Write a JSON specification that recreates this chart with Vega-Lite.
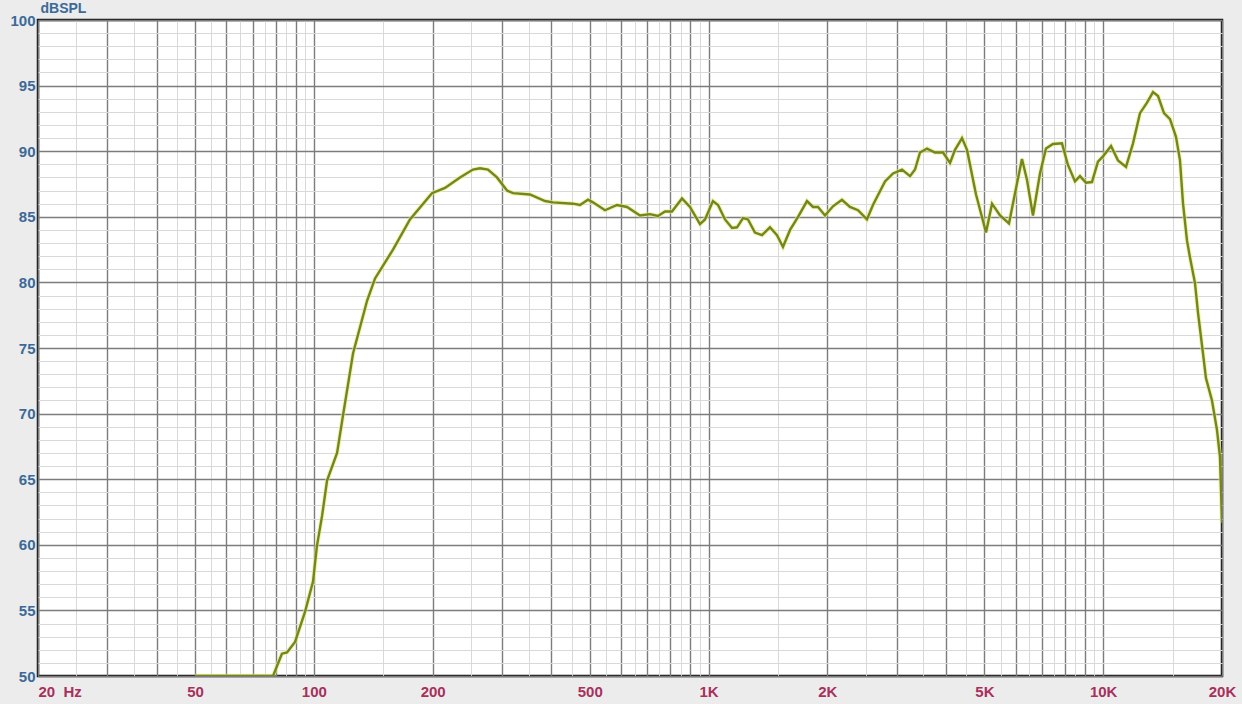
{
  "$schema": "https://vega.github.io/schema/vega-lite/v6.json",
  "autosize": "none",
  "width": 1184,
  "height": 656,
  "padding": {"left": 38, "top": 20, "right": 20, "bottom": 28},
  "background": "#ececec",
  "data": {
    "values": [
      {"freq": 50, "spl": 50},
      {"freq": 78.8, "spl": 50},
      {"freq": 83.0, "spl": 51.7},
      {"freq": 85.5, "spl": 51.8},
      {"freq": 89.6, "spl": 52.6},
      {"freq": 95.0, "spl": 54.9},
      {"freq": 99.5, "spl": 57.2},
      {"freq": 101.8, "spl": 59.9},
      {"freq": 104.9, "spl": 62.2},
      {"freq": 108.0, "spl": 64.9},
      {"freq": 114.5, "spl": 67.0},
      {"freq": 118.6, "spl": 69.9},
      {"freq": 125.7, "spl": 74.6},
      {"freq": 136.4, "spl": 78.6},
      {"freq": 142.9, "spl": 80.3},
      {"freq": 158.7, "spl": 82.5},
      {"freq": 175.2, "spl": 84.8},
      {"freq": 199.2, "spl": 86.8},
      {"freq": 214.9, "spl": 87.2},
      {"freq": 234.6, "spl": 88.0},
      {"freq": 253, "spl": 88.6},
      {"freq": 263.6, "spl": 88.7},
      {"freq": 276.2, "spl": 88.6},
      {"freq": 291, "spl": 88.0},
      {"freq": 308.6, "spl": 87.0},
      {"freq": 319.6, "spl": 86.8},
      {"freq": 352.8, "spl": 86.7},
      {"freq": 385.2, "spl": 86.2},
      {"freq": 403.6, "spl": 86.1},
      {"freq": 453.6, "spl": 86.0},
      {"freq": 472.6, "spl": 85.9},
      {"freq": 495, "spl": 86.3},
      {"freq": 509.6, "spl": 86.1},
      {"freq": 546.6, "spl": 85.5},
      {"freq": 586.2, "spl": 85.9},
      {"freq": 621.6, "spl": 85.75},
      {"freq": 670.4, "spl": 85.1},
      {"freq": 710.6, "spl": 85.2},
      {"freq": 744.6, "spl": 85.06},
      {"freq": 775.8, "spl": 85.4},
      {"freq": 808, "spl": 85.4},
      {"freq": 856.6, "spl": 86.4},
      {"freq": 897.4, "spl": 85.75},
      {"freq": 951.4, "spl": 84.45},
      {"freq": 979.6, "spl": 84.8},
      {"freq": 1026, "spl": 86.2},
      {"freq": 1057, "spl": 85.9},
      {"freq": 1101, "spl": 84.8},
      {"freq": 1147, "spl": 84.15},
      {"freq": 1181, "spl": 84.2},
      {"freq": 1223, "spl": 84.9},
      {"freq": 1259, "spl": 84.8},
      {"freq": 1311, "spl": 83.8},
      {"freq": 1366, "spl": 83.6},
      {"freq": 1431, "spl": 84.2},
      {"freq": 1491, "spl": 83.6},
      {"freq": 1544, "spl": 82.7},
      {"freq": 1609, "spl": 84.0},
      {"freq": 1686, "spl": 85.0},
      {"freq": 1776, "spl": 86.2},
      {"freq": 1840, "spl": 85.75},
      {"freq": 1894, "spl": 85.75},
      {"freq": 1973, "spl": 85.1},
      {"freq": 2067, "spl": 85.8},
      {"freq": 2178, "spl": 86.3},
      {"freq": 2282, "spl": 85.75},
      {"freq": 2392, "spl": 85.5},
      {"freq": 2520, "spl": 84.8},
      {"freq": 2610, "spl": 85.9},
      {"freq": 2800, "spl": 87.7},
      {"freq": 2934, "spl": 88.3},
      {"freq": 3092, "spl": 88.6},
      {"freq": 3240, "spl": 88.1},
      {"freq": 3336, "spl": 88.6},
      {"freq": 3434, "spl": 89.9},
      {"freq": 3578, "spl": 90.2},
      {"freq": 3748, "spl": 89.9},
      {"freq": 3928, "spl": 89.9},
      {"freq": 4092, "spl": 89.1},
      {"freq": 4212, "spl": 90.1},
      {"freq": 4388, "spl": 91.0},
      {"freq": 4518, "spl": 90.1},
      {"freq": 4762, "spl": 86.7},
      {"freq": 5048, "spl": 83.8},
      {"freq": 5228, "spl": 86.0},
      {"freq": 5478, "spl": 85.1},
      {"freq": 5772, "spl": 84.5},
      {"freq": 5978, "spl": 86.8},
      {"freq": 6226, "spl": 89.4},
      {"freq": 6412, "spl": 87.8},
      {"freq": 6638, "spl": 85.1},
      {"freq": 6916, "spl": 88.3},
      {"freq": 7162, "spl": 90.2},
      {"freq": 7460, "spl": 90.55},
      {"freq": 7862, "spl": 90.6},
      {"freq": 8142, "spl": 88.95},
      {"freq": 8482, "spl": 87.7},
      {"freq": 8734, "spl": 88.1},
      {"freq": 9044, "spl": 87.6},
      {"freq": 9366, "spl": 87.65},
      {"freq": 9700, "spl": 89.2},
      {"freq": 9988, "spl": 89.6},
      {"freq": 10466, "spl": 90.4},
      {"freq": 10902, "spl": 89.3},
      {"freq": 11424, "spl": 88.8},
      {"freq": 11900, "spl": 90.6},
      {"freq": 12394, "spl": 92.9},
      {"freq": 12914, "spl": 93.7},
      {"freq": 13374, "spl": 94.5},
      {"freq": 13770, "spl": 94.2},
      {"freq": 14258, "spl": 92.9},
      {"freq": 14766, "spl": 92.45},
      {"freq": 15292, "spl": 91.1},
      {"freq": 15652, "spl": 89.3},
      {"freq": 15928, "spl": 86.05},
      {"freq": 16304, "spl": 83.2},
      {"freq": 16592, "spl": 81.9},
      {"freq": 17084, "spl": 79.95},
      {"freq": 17386, "spl": 77.7},
      {"freq": 17898, "spl": 74.6},
      {"freq": 18214, "spl": 72.7},
      {"freq": 18864, "spl": 71.0},
      {"freq": 19424, "spl": 68.75},
      {"freq": 19766, "spl": 66.7},
      {"freq": 20000, "spl": 61.7}
    ]
  },
  "encoding": {
    "x": {
      "field": "freq",
      "type": "quantitative",
      "scale": {"type": "log", "domain": [20, 20000], "nice": false},
      "axis": {
        "title": null,
        "values": [20, 25, 30, 35, 40, 45, 50, 55, 60, 65, 70, 75, 80, 85, 90, 95, 100, 150, 200, 250, 300, 350, 400, 450, 500, 550, 600, 650, 700, 750, 800, 850, 900, 950, 1000, 1500, 2000, 2500, 3000, 3500, 4000, 4500, 5000, 5500, 6000, 6500, 7000, 7500, 8000, 8500, 9000, 9500, 10000, 15000, 20000],
        "labelExpr": "datum.value == 20 ? '20\u00a0\u00a0Hz' : datum.value == 50 ? '50' : datum.value == 100 ? '100' : datum.value == 200 ? '200' : datum.value == 500 ? '500' : datum.value == 1000 ? '1K' : datum.value == 2000 ? '2K' : datum.value == 5000 ? '5K' : datum.value == 10000 ? '10K' : datum.value == 20000 ? '20K' : ''",
        "labelAlign": {"condition": {"test": "datum.value == 20", "value": "left"}, "value": "center"},
        "labelOverlap": false,
        "labelFlush": false,
        "labelPadding": 8,
        "labelFont": "Liberation Sans",
        "labelFontWeight": "bold",
        "labelFontSize": 15,
        "labelColor": "#a8305c",
        "ticks": false,
        "domain": false,
        "grid": true,
        "gridColor": {"condition": {"test": "(datum.value / pow(10, floor(log(datum.value) / LN10 + 1e-9))) % 1 == 0", "value": "#7c7c7c"}, "value": "#d9d9d9"},
        "gridWidth": {"condition": {"test": "(datum.value / pow(10, floor(log(datum.value) / LN10 + 1e-9))) % 1 == 0", "value": 1.4}, "value": 1}
      }
    },
    "y": {
      "field": "spl",
      "type": "quantitative",
      "scale": {"domain": [50, 100], "nice": false, "zero": false},
      "axis": {
        "title": "dBSPL",
        "titleAngle": 0,
        "titleX": 2,
        "titleY": -5,
        "titleAlign": "left",
        "titleBaseline": "bottom",
        "titleFont": "Liberation Sans",
        "titleFontWeight": "bold",
        "titleFontSize": 14,
        "titleColor": "#3b6a98",
        "values": [50, 51, 52, 53, 54, 55, 56, 57, 58, 59, 60, 61, 62, 63, 64, 65, 66, 67, 68, 69, 70, 71, 72, 73, 74, 75, 76, 77, 78, 79, 80, 81, 82, 83, 84, 85, 86, 87, 88, 89, 90, 91, 92, 93, 94, 95, 96, 97, 98, 99, 100],
        "labelExpr": "datum.value % 5 == 0 ? datum.label : ''",
        "labelOverlap": false,
        "labelFlush": false,
        "labelPadding": 3,
        "labelFont": "Liberation Sans",
        "labelFontWeight": "bold",
        "labelFontSize": 15,
        "labelColor": "#3b6a98",
        "ticks": false,
        "domain": false,
        "grid": true,
        "gridColor": {"condition": {"test": "datum.value % 5 == 0", "value": "#7c7c7c"}, "value": "#d9d9d9"},
        "gridWidth": {"condition": {"test": "datum.value % 5 == 0", "value": 1.4}, "value": 1}
      }
    }
  },
  "layer": [
    {"mark": {"type": "line", "color": "#e6ec86", "strokeWidth": 4.5, "opacity": 0.6, "clip": true}},
    {"mark": {"type": "line", "color": "#76861c", "strokeWidth": 2.4, "clip": true}}
  ],
  "config": {
    "view": {"fill": "#ffffff", "stroke": "#111111", "strokeWidth": 2.5}
  }
}
